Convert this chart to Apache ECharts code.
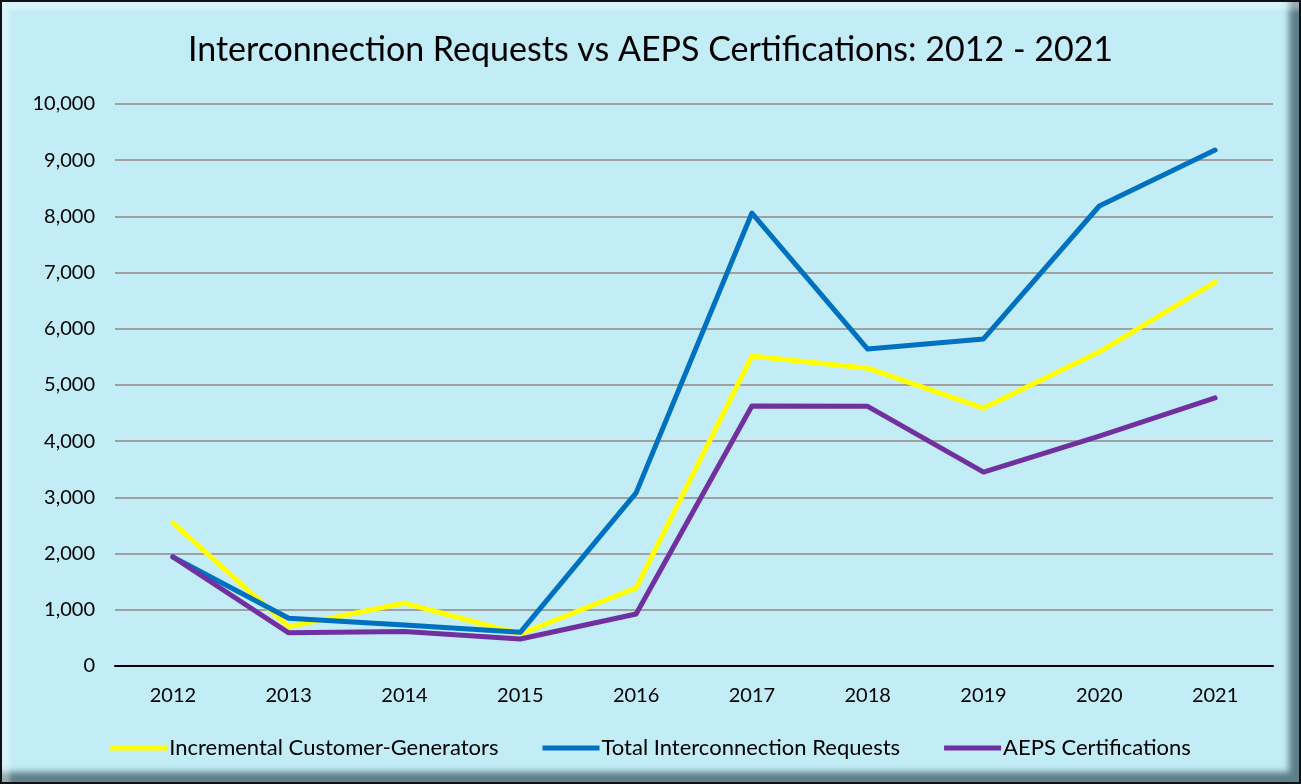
<!DOCTYPE html>
<html><head><meta charset="utf-8">
<script src="https://cdn.jsdelivr.net/npm/echarts@6/dist/echarts.min.js"></script>
<style>
html,body{margin:0;padding:0;background:#fff;}
#wrap{position:absolute;left:0;top:0;width:1301px;height:784px;box-sizing:border-box;border:2px solid #111;background:#C2ECF6;
box-shadow: inset 10px 10px 4px -2px rgba(255,255,255,0.35), inset -14px -14px 6px -4px rgba(60,90,100,0.75);}
#chart{position:absolute;left:0;top:0;width:1297px;height:780px;}
</style></head>
<body><div id="wrap"><div id="chart"></div></div>
<script>
const titleText = 'Interconnection Requests vs AEPS Certifications: 2012 - 2021';
const years = ['2012','2013','2014','2015','2016','2017','2018','2019','2020','2021'];
const incremental = [2545, 700, 1120, 570, 1390, 5515, 5300, 4590, 5590, 6830];
const totalRequests = [1940, 850, 730, 600, 3080, 8060, 5640, 5820, 8185, 9180];
const aeps = [1940, 590, 615, 480, 925, 4625, 4620, 3450, 4090, 4770];
const seriesNames = ['Incremental Customer-Generators','Total Interconnection Requests','AEPS Certifications'];
const colors = ['#FFFF00','#0070C0','#7030A0'];
const font = 'Lato, "Open Sans", sans-serif';
const chart = echarts.init(document.getElementById('chart'));
const mk = (name, data, color) => ({
  name, type:'line', data, symbol:'none', smooth:false,
  lineStyle:{color, width:5, cap:'round', join:'round'}, itemStyle:{color}
});
chart.setOption({
  backgroundColor:'transparent',
  animation:false,
  title:{text:titleText, left:'center', top:26, textStyle:{fontFamily:font, fontSize:34, fontWeight:'normal', color:'#000'}},
  grid:{left:113, right:26, top:102, bottom:116, containLabel:false},
  legend:{bottom:18, left:'center', icon:'rect', itemWidth:57, itemHeight:5, itemGap:44,
    textStyle:{fontFamily:font, fontSize:22, color:'#000', padding:[0,0,0,-3]},
    data:seriesNames},
  xAxis:{type:'category', data:years, boundaryGap:true,
    axisLine:{lineStyle:{color:'#000', width:2}}, axisTick:{show:false},
    axisLabel:{fontFamily:font, fontSize:20, color:'#000', margin:20}},
  yAxis:{type:'value', min:0, max:10000, interval:1000,
    axisLine:{show:false}, axisTick:{show:false},
    splitLine:{lineStyle:{color:'#A0A0A0', width:2}},
    axisLabel:{fontFamily:font, fontSize:20, color:'#000', margin:20,
      formatter:v=>v.toLocaleString('en-US')}},
  series:[mk(seriesNames[0], incremental, colors[0]), mk(seriesNames[1], totalRequests, colors[1]), mk(seriesNames[2], aeps, colors[2])]
});
</script></body></html>
